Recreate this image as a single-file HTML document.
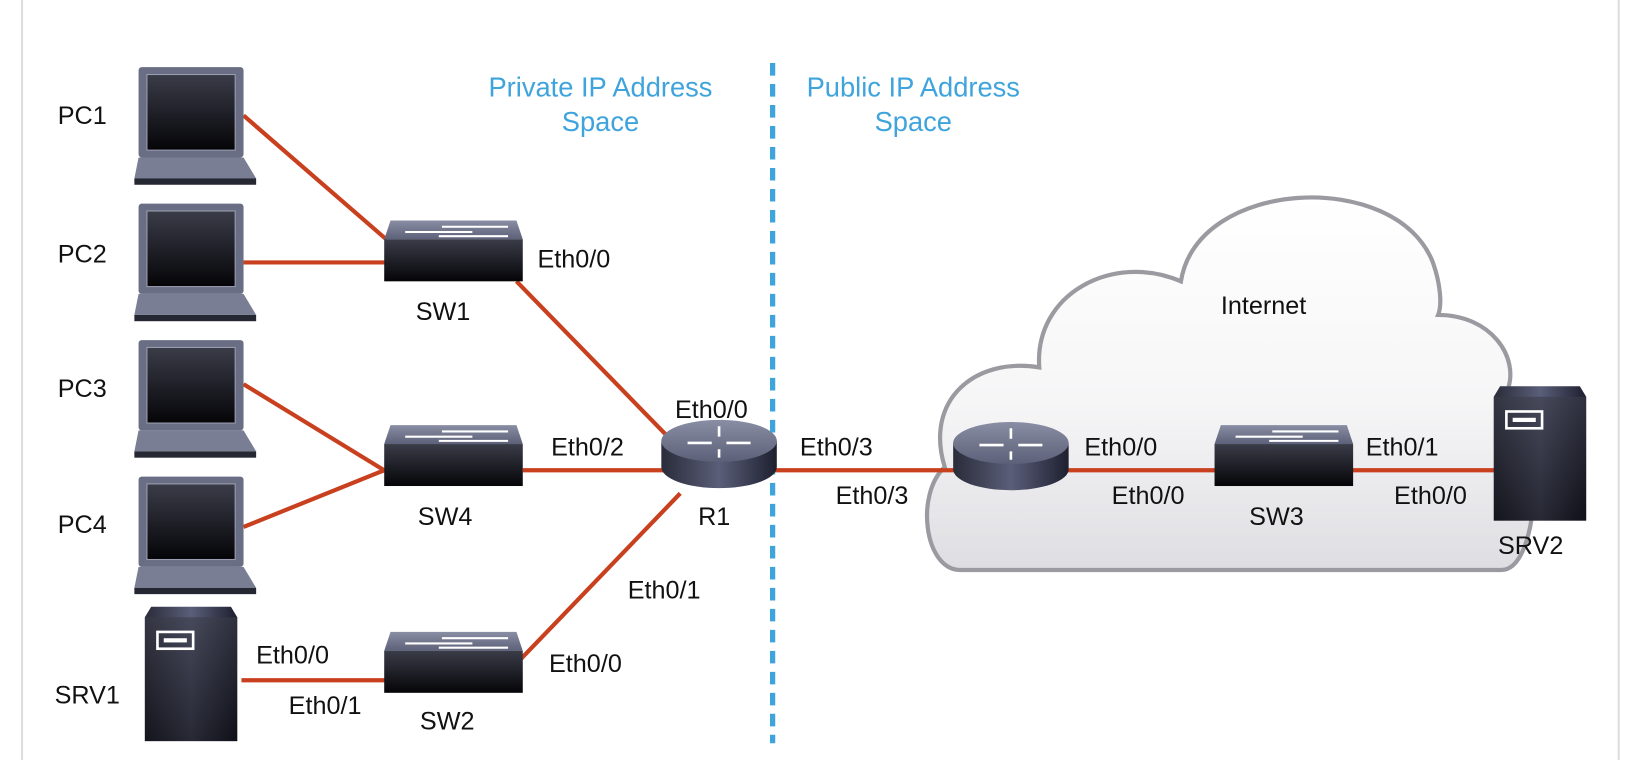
<!DOCTYPE html>
<html><head><meta charset="utf-8"><style>
html,body{margin:0;padding:0;background:#fff;}
svg{display:block;font-family:"Liberation Sans",Arial,sans-serif;}
text{font-size:24px;fill:#111;}
.b{fill:#3fa4dc;font-size:26px;}
</style></head><body>
<svg width="1646" height="760" viewBox="0 0 1568 724" preserveAspectRatio="none" xmlns="http://www.w3.org/2000/svg">
<defs>
<linearGradient id="dk" x1="0" y1="0" x2="1" y2="0">
<stop offset="0" stop-color="#2a2c3a"/><stop offset="0.5" stop-color="#5a5e78"/><stop offset="1" stop-color="#1e2030"/></linearGradient>
<linearGradient id="top" x1="0" y1="0" x2="0" y2="1">
<stop offset="0" stop-color="#8a8ea4"/><stop offset="1" stop-color="#5c6078"/></linearGradient>
<linearGradient id="scr" x1="0" y1="0" x2="0" y2="1">
<stop offset="0" stop-color="#3a3c48"/><stop offset="1" stop-color="#050508"/></linearGradient>
<linearGradient id="cl" x1="0" y1="0" x2="0" y2="1">
<stop offset="0" stop-color="#fff"/><stop offset="0.55" stop-color="#f6f6f7"/><stop offset="1" stop-color="#dedee2"/></linearGradient>
<g id="lap">
<rect x="0" y="0" width="100" height="86" rx="3" fill="#6a6e84"/>
<rect x="8" y="7" width="84" height="72" fill="url(#scr)" stroke="#9a9eb0" stroke-width="1"/>
<path d="M0 86 L100 86 L112 106 L-4 106 Z" fill="#7a7e94"/>
<rect x="-4" y="106" width="116" height="6" fill="#252733"/>
</g>
<g id="sw">
<path d="M6 0 L126 0 L132 18 L0 18 Z" fill="url(#top)"/>
<rect x="0" y="18" width="132" height="40" fill="url(#scr)"/>
<path d="M55 6 H118 M20 11 H84 M52 15 H118" stroke="#fff" stroke-width="2"/>
</g>
<g id="rt">
<path d="M0 20 V45 A55 20 0 0 0 110 45 V20 Z" fill="url(#dk)"/>
<ellipse cx="55" cy="20" rx="55" ry="20" fill="url(#top)"/>
<path d="M25 22 H48 M62 22 H85 M55 6 V16 M55 28 V36" stroke="#fff" stroke-width="2.5"/>
</g>
<g id="srv">
<path d="M6 0 H82 L88 10 V128 H0 V10 Z" fill="url(#dk)"/>
<rect x="0" y="10" width="88" height="118" fill="url(#scr)" opacity="0.6"/>
<rect x="12" y="24" width="34" height="16" fill="none" stroke="#fff" stroke-width="2.5"/>
<rect x="18" y="30" width="22" height="4" fill="#fff"/>
</g>
</defs>
<line x1="21" y1="0" x2="21" y2="724" stroke="#ddd" stroke-width="2"/>
<line x1="1542" y1="0" x2="1542" y2="724" stroke="#ddd" stroke-width="2"/>
<path d="M915 543 C880 543 872 470 900 445 C880 380 930 340 990 350 C985 280 1060 240 1125 268 C1140 170 1330 160 1365 250 C1372 270 1374 290 1370 300 C1420 300 1448 340 1436 372 C1472 392 1470 543 1430 543 Z" fill="url(#cl)" stroke="#9a9aa0" stroke-width="4"/>
<text x="1163" y="299">Internet</text>
<line x1="736" y1="60" x2="736" y2="708" stroke="#3fa4dc" stroke-width="5" stroke-dasharray="12 8"/>
<text class="b" x="572" y="92" text-anchor="middle">Private IP Address</text>
<text class="b" x="572" y="125" text-anchor="middle">Space</text>
<text class="b" x="870" y="92" text-anchor="middle">Public IP Address</text>
<text class="b" x="870" y="125" text-anchor="middle">Space</text>
<g stroke="#c8401e" stroke-width="4" fill="none">
<line x1="232" y1="110" x2="368" y2="228"/>
<line x1="232" y1="250" x2="368" y2="250"/>
<line x1="492" y1="268" x2="645" y2="425"/>
<line x1="232" y1="366" x2="366" y2="448"/>
<line x1="232" y1="502" x2="366" y2="448"/>
<line x1="498" y1="448" x2="640" y2="448"/>
<line x1="648" y1="470" x2="496" y2="628"/>
<line x1="230" y1="648" x2="368" y2="648"/>
<line x1="730" y1="448" x2="910" y2="448"/>
<line x1="1010" y1="448" x2="1160" y2="448"/>
<line x1="1285" y1="448" x2="1425" y2="448"/>
</g>
<use href="#lap" x="132" y="64"/>
<use href="#lap" x="132" y="194"/>
<use href="#lap" x="132" y="324"/>
<use href="#lap" x="132" y="454"/>
<use href="#sw" x="366" y="210"/>
<use href="#sw" x="366" y="405"/>
<use href="#sw" x="366" y="602"/>
<use href="#sw" x="1157" y="405"/>
<use href="#rt" x="630" y="400"/>
<use href="#rt" x="908" y="402"/>
<use href="#srv" x="138" y="578"/>
<use href="#srv" x="1423" y="368"/>
<text x="55" y="118">PC1</text>
<text x="55" y="250">PC2</text>
<text x="55" y="378">PC3</text>
<text x="55" y="508">PC4</text>
<text x="52" y="670">SRV1</text>
<text x="396" y="305">SW1</text>
<text x="398" y="500">SW4</text>
<text x="400" y="695">SW2</text>
<text x="1190" y="500">SW3</text>
<text x="665" y="500">R1</text>
<text x="1427" y="528">SRV2</text>
<text x="512" y="255">Eth0/0</text>
<text x="525" y="434">Eth0/2</text>
<text x="643" y="398">Eth0/0</text>
<text x="598" y="570">Eth0/1</text>
<text x="523" y="640">Eth0/0</text>
<text x="244" y="632">Eth0/0</text>
<text x="275" y="680">Eth0/1</text>
<text x="762" y="434">Eth0/3</text>
<text x="796" y="480">Eth0/3</text>
<text x="1033" y="434">Eth0/0</text>
<text x="1059" y="480">Eth0/0</text>
<text x="1301" y="434">Eth0/1</text>
<text x="1328" y="480">Eth0/0</text>
</svg>
</body></html>
